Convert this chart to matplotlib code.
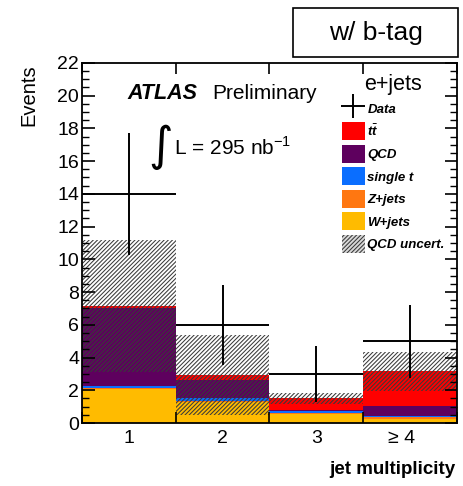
import numpy as np
import matplotlib
matplotlib.use("Agg")
import matplotlib.pyplot as plt
from matplotlib.patches import Patch, Rectangle
from matplotlib.lines import Line2D
from matplotlib.transforms import ScaledTranslation

# -------------------------
# Data
# -------------------------
bin_labels = ["1", "2", "3", "\u2265 4"]
data_counts = [14, 6, 3, 5]
wjets = [2.05, 1.30, 0.55, 0.25]
zjets = [0.08, 0.05, 0.05, 0.12]
single_t = [0.12, 0.15, 0.12, 0.05]
qcd = [4.80, 1.15, 0.05, 0.63]
ttbar = [0.10, 0.30, 0.75, 2.10]
qcd_unc = [4.05, 2.45, 0.33, 1.20]

plt.rcParams["font.family"] = ["Liberation Sans", "DejaVu Sans"]
plt.rcParams["hatch.linewidth"] = 0.75

COLORS = {
    "W+jets": "#ffbb00",
    "Z+jets": "#ff7711",
    "single t": "#0a6eff",
    "QCD": "#5e005e",
    "tt": "#ff0000",
}
HATCH = "////////"
HATCH_COLOR = "#3a3a3a"

fig = plt.figure(figsize=(4.64, 4.86), dpi=100)
ax = fig.add_axes([0.1767, 0.1296, 0.808, 0.741])

x = np.arange(len(bin_labels)) + 1.0
width = 1.0

# stacked backgrounds, bottom to top
stack = [("W+jets", wjets), ("Z+jets", zjets), ("single t", single_t),
         ("QCD", qcd), ("tt", ttbar)]
bottom = np.zeros(len(x))
for name, vals in stack:
    vals = np.array(vals)
    ax.bar(x, vals, width=width, bottom=bottom, color=COLORS[name],
           edgecolor="none", linewidth=0)
    bottom = bottom + vals
total = bottom

# QCD uncertainty band
unc = np.array(qcd_unc)
ax.bar(x, 2 * unc, width=width, bottom=total - unc, fill=False,
       hatch=HATCH, edgecolor=HATCH_COLOR, linewidth=0)

# data points with poisson errors
dat = np.array(data_counts, dtype=float)
ax.errorbar(x, dat, yerr=np.sqrt(dat), xerr=width / 2, fmt="none",
            ecolor="black", elinewidth=1.4, capsize=0)

# axes styling
ax.set_xlim(0.5, 4.5)
ax.set_ylim(0, 22)
ax.set_yticks(np.arange(0, 23, 2))
ax.set_yticks(np.arange(0, 22.01, 0.5), minor=True)
ax.set_xticks(np.arange(0.5, 4.6, 1.0))
ax.set_xticklabels([])
ax.set_xticks(x, minor=True)
ax.set_xticklabels(bin_labels, minor=True, fontsize=14)
ax.tick_params(axis="x", which="minor", length=0, pad=5)
ax.tick_params(axis="x", which="major", direction="in", length=8,
               top=True, bottom=True, width=1.2)
ax.tick_params(axis="y", which="major", direction="in", length=9,
               left=True, right=True, labelsize=14, width=1.2, pad=2)
ax.tick_params(axis="y", which="minor", direction="in", length=5,
               left=True, right=True, width=1.0)
for sp in ax.spines.values():
    sp.set_linewidth(1.3)
# the ">= 4" label sits a bit left of its bin centre in the original
last_lbl = ax.xaxis.get_minorticklabels()[-1]
last_lbl.set_transform(last_lbl.get_transform() +
                       ScaledTranslation(-0.08, 0, fig.dpi_scale_trans))

fig.text(0.063, 0.868, "Events", rotation=90, ha="center", va="top",
         fontsize=14.5)
fig.text(0.982, 0.016, "jet multiplicity", ha="right", va="bottom",
         fontsize=13.5, fontweight="bold")

# labels inside the plot
fig.text(0.274, 0.808, "ATLAS", fontsize=15.5, fontweight="bold",
         fontstyle="italic", va="center")
fig.text(0.458, 0.808, "Preliminary", fontsize=15, va="center")
fig.text(0.318, 0.697, r"$\int$", fontsize=24, va="center", ha="left")
fig.text(0.376, 0.697, r"L = 295 nb$^{\mathregular{-1}}$", fontsize=15,
         va="center", ha="left")

# legend
handles = [
    Line2D([], [], color="black", marker="+", markersize=17, mew=1.4,
           ls="none"),
    Patch(facecolor=COLORS["tt"], edgecolor="none"),
    Patch(facecolor=COLORS["QCD"], edgecolor="none"),
    Patch(facecolor=COLORS["single t"], edgecolor="none"),
    Patch(facecolor=COLORS["Z+jets"], edgecolor="none"),
    Patch(facecolor=COLORS["W+jets"], edgecolor="none"),
    Patch(facecolor="#d8d8d8", edgecolor=HATCH_COLOR, hatch=HATCH,
          linewidth=0),
]
labels = ["Data", r"t$\bar{\mathregular{t}}$", "QCD", "single t",
          "Z+jets", "W+jets", "QCD uncert."]
leg = fig.legend(handles, labels, loc="upper left",
                 bbox_to_anchor=(0.722, 0.861), frameon=False,
                 prop={"size": 9.5, "weight": "bold", "style": "italic"},
                 handlelength=1.75, handleheight=1.73, labelspacing=0.34,
                 handletextpad=0.2, borderpad=0.0,
                 title="e+jets", title_fontsize=15.5)
leg._legend_box.align = "center"

# "w/ b-tag" box
fig.patches.append(Rectangle((0.632, 0.883), 0.355, 0.100,
                             transform=fig.transFigure, fill=False,
                             edgecolor="black", linewidth=1.2))
fig.text(0.811, 0.932, "w/ b-tag", ha="center", va="center", fontsize=19)

fig.savefig("out.png", dpi=100)
